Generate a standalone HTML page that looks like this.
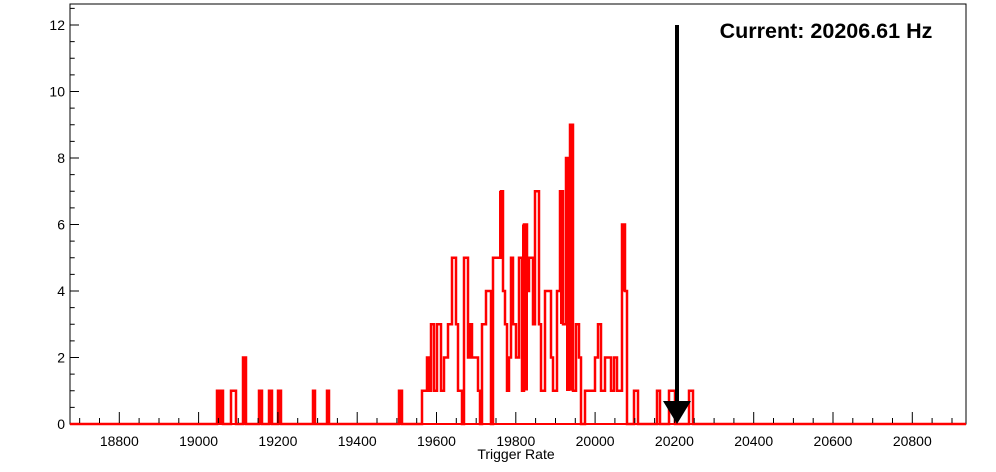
<!DOCTYPE html>
<html><head><meta charset="utf-8"><style>
html,body{margin:0;padding:0;background:#fff;}
svg{display:block;font-family:"Liberation Sans",Arial,sans-serif;}
</style></head><body>
<svg width="996" height="472" viewBox="0 0 996 472" xmlns="http://www.w3.org/2000/svg">
<rect x="0" y="0" width="996" height="472" fill="#fff"/>
<g fill="#f00">
<rect x="499" y="191" width="4" height="67"/>
<rect x="522" y="224.5" width="6" height="166"/>
<rect x="560" y="191" width="3" height="133"/>
<rect x="566" y="158" width="4" height="233"/>
<rect x="570" y="124.75" width="3.5" height="266"/>
<rect x="622" y="224.5" width="3" height="67"/>
<rect x="217" y="390.75" width="6" height="33"/>
<rect x="243" y="357.5" width="3" height="66"/>
<rect x="259" y="390.75" width="3" height="33"/>
<rect x="269" y="390.75" width="3" height="33"/>
<rect x="278" y="390.75" width="3" height="33"/>
<rect x="313" y="390.75" width="2" height="33"/>
<rect x="327" y="390.75" width="2" height="33"/>
<rect x="399" y="390.75" width="3" height="33"/>
</g>
<path fill="none" stroke="#f00" stroke-width="2.5" d="M70,424 H217 V390.75 H223 V424 H231 V390.75 H236 V424 H243 V357.5 H246 V424 H259 V390.75 H262 V424 H269 V390.75 H272 V424 H278 V390.75 H281 V424 H313 V390.75 H315 V424 H327 V390.75 H329 V424 H399 V390.75 H402 V424 H422 V390.75 H427 V357.5 H429 V390.75 H431 V324.25 H434 V390.75 H437 V324.25 H441 V390.75 H444 V357.5 H448 V324.25 H452 V257.75 H456 V324.25 H458 V390.75 H462 V424 H464 V257.75 H468 V357.5 H470 V324.25 H472 V357.5 H478 V390.75 H480 V424 H482 V324.25 H486 V291 H491 V424 H493 V257.75 H501 V191.25 H503 V291 H505 V324.25 H507 V390.75 H509 V357.5 H511 V257.75 H513 V324.25 H516 V357.5 H519 V257.75 H522 V390.75 H524 V224.5 H527 V291 H529 V257.75 H533 V324.25 H535 V191.25 H539 V324.25 H541 V390.75 H545 V291 H551 V357.5 H553 V390.75 H557 V291 H560 V191.25 H563 V324.25 H566 V158 H570 V124.75 H573 V390.75 H576 V324.25 H579 V357.5 H581 V424 H585 V390.75 H595 V357.5 H598 V324.25 H601 V390.75 H605 V357.5 H611 V390.75 H614 V357.5 H617 V390.75 H622 V224.5 H625 V291 H627 V424 H634 V390.75 H638 V424 H657 V390.75 H660 V424 H669 V390.75 H675 V424 H689 V390.75 H693 V424 H966"/>
<rect x="70" y="4" width="896" height="420" fill="none" stroke="#000" stroke-width="1"/>
<g stroke="#000" stroke-width="1">
<path d="M79.65,424v-6M99.5,424v-6M119.3,424v-12M139.1,424v-6M159,424v-6M178.8,424v-6M198.6,424v-12M218.4,424v-6M238.3,424v-6M258.1,424v-6M277.9,424v-12M297.7,424v-6M317.6,424v-6M337.4,424v-6M357.2,424v-12M377,424v-6M396.9,424v-6M416.7,424v-6M436.5,424v-12M456.3,424v-6M476.2,424v-6M496,424v-6M515.8,424v-12M535.6,424v-6M555.5,424v-6M575.3,424v-6M595.1,424v-12M614.9,424v-6M634.8,424v-6M654.6,424v-6M674.4,424v-12M694.2,424v-6M714.1,424v-6M733.9,424v-6M753.7,424v-12M773.5,424v-6M793.4,424v-6M813.2,424v-6M833,424v-12M852.8,424v-6M872.7,424v-6M892.5,424v-6M912.3,424v-12M932.1,424v-6M952,424v-6"/>
<path d="M70,407.4h4.7M70,390.75h4.7M70,374.1h4.7M70,357.5h9M70,340.9h4.7M70,324.25h4.7M70,307.6h4.7M70,291h9M70,274.4h4.7M70,257.75h4.7M70,241.1h4.7M70,224.5h9M70,207.9h4.7M70,191.25h4.7M70,174.6h4.7M70,158h9M70,141.4h4.7M70,124.75h4.7M70,108.1h4.7M70,91.5h9M70,74.9h4.7M70,58.25h4.7M70,41.6h4.7M70,25h9M70,8.4h4.7"/>
</g>
<line x1="70" y1="424" x2="966" y2="424" stroke="#f00" stroke-width="2"/>
<g font-size="14" fill="#000" text-anchor="middle">
<text x="119.3" y="446">18800</text><text x="198.6" y="446">19000</text><text x="277.9" y="446">19200</text><text x="357.2" y="446">19400</text><text x="436.5" y="446">19600</text><text x="515.8" y="446">19800</text><text x="595.1" y="446">20000</text><text x="674.4" y="446">20200</text><text x="753.7" y="446">20400</text><text x="833" y="446">20600</text><text x="912.3" y="446">20800</text>
</g>
<g font-size="14" fill="#000" text-anchor="end">
<text x="65" y="429">0</text><text x="65" y="362.5">2</text><text x="65" y="296">4</text><text x="65" y="229.5">6</text><text x="65" y="163">8</text><text x="65" y="96.5">10</text><text x="65" y="30">12</text>
</g>
<text x="516" y="459" font-size="14" text-anchor="middle">Trigger Rate</text>
<line x1="677" y1="25" x2="677" y2="404" stroke="#000" stroke-width="4"/>
<polygon points="663,401 691,401 677,424" fill="#000"/>
<text x="826" y="38" font-size="21.5" font-weight="bold" text-anchor="middle">Current: 20206.61 Hz</text>
</svg>
</body></html>
